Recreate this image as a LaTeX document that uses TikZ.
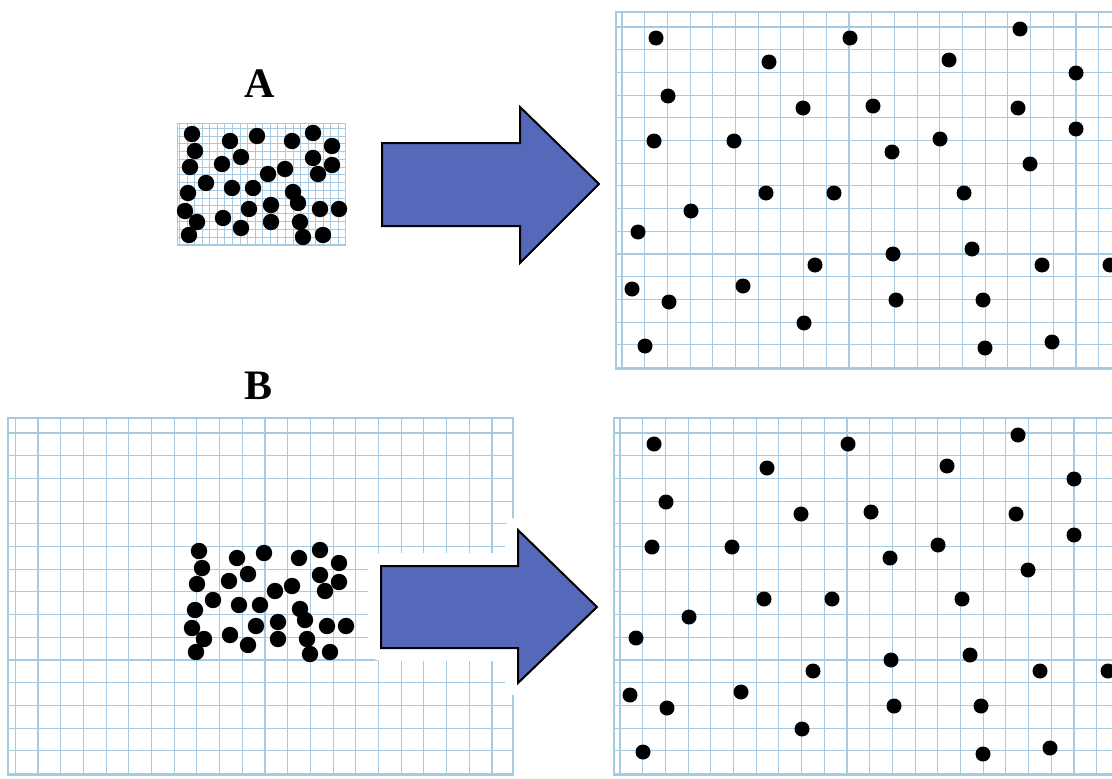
\documentclass[tikz,border=0pt]{standalone}
\usepackage{fontspec}
\setmainfont{Liberation Serif}
\definecolor{gridblue}{RGB}{165,202,226}
\definecolor{arrowblue}{RGB}{86,104,186}
\tikzset{
  gridline/.style={draw=gridblue, line width=1.1pt},
  finegrid/.style={draw=gridblue, line width=0.6pt},
  bigarrow/.style={fill=arrowblue, draw=black, line width=2pt, line join=miter},
  halo/.style={draw=white, fill=white, line width=26pt, line join=round},
  lbl/.style={font=\bfseries\fontsize{42}{42}\selectfont, inner sep=0pt, anchor=center}
}
% grid panel: lines drawn in local coordinates
\newcommand\gridlines[3]{% #1 = width, #2 = first vertical line offset, #3 = number of vertical lines-1
  \foreach \k in {0,...,#3} {\draw[gridline] ({#2+22.7*\k},0) -- ({#2+22.7*\k},357);}
  \foreach \k in {0,...,15} {\draw[gridline] (0,{15+22.7*\k}) -- (#1,{15+22.7*\k});}
  \draw[gridline] (0,0) rectangle (#1,357);
}
\newcommand\finegridlines{%
  \foreach \k in {0,...,21} {\draw[finegrid] ({7+22.7*\k},0) -- ({7+22.7*\k},357);}
  \foreach \k in {0,...,15} {\draw[finegrid] (0,{15+22.7*\k}) -- (505,{15+22.7*\k});}
  \draw[finegrid] (0,0) rectangle (505,357);
}
\newcommand\clusterdots{%
  \foreach \x/\y in {192/134,230/141,257/136,292/141,313/133,332/146,195/151,241/157,
    190/167,222/164,268/174,285/169,313/158,332/165,318/174,206/183,232/188,253/188,
    188/193,293/192,298/203,249/209,271/205,185/211,320/209,339/209,197/222,223/218,
    271/222,300/222,241/228,189/235,303/237,323/235}
    {\fill[black] (\x,\y) circle (8.2pt);}
}
\newcommand\spreaddots{%
  \foreach \x/\y in {656/38,850/38,1020/29,769/62,949/60,1076/73,668/96,803/108,873/106,
    1018/108,1076/129,654/141,734/141,892/152,940/139,1030/164,766/193,834/193,964/193,
    691/211,638/232,893/254,972/249,815/265,1042/265,1110/265,632/289,669/302,743/286,
    896/300,983/300,804/323,645/346,985/348,1052/342}
    {\fill[black] (\x,\y) circle (7.5pt);}
}
\begin{document}
\begin{tikzpicture}[x=1pt,y=-1pt]
\useasboundingbox (0,0) rectangle (1112,779);
\fill[white] (0,0) rectangle (1112,779);
\clip (0,0) rectangle (1112,779);

% ---- A: small grid with packed dots
\begin{scope}[shift={(177,123)}, xscale=0.3333, yscale=0.342]
  \finegridlines
\end{scope}
\clusterdots
\node[lbl] (labelA) at (260,84) {A};

% ---- top right: expanded
\begin{scope}[shift={(616,12)}]
  \gridlines{620}{6}{22}
\end{scope}
\spreaddots

% ---- B: big grid with packed dots
\begin{scope}[shift={(8,418)}]
  \gridlines{505}{7.3}{21}
\end{scope}
\begin{scope}[shift={(7,417)}]
  \clusterdots
\end{scope}
\node[lbl] (labelB) at (259,386) {B};

% ---- bottom right: expanded
\begin{scope}[shift={(614,418)}]
  \gridlines{620}{6}{22}
\end{scope}
\begin{scope}[shift={(-2,406)}]
  \spreaddots
\end{scope}

% ---- arrows
\draw[bigarrow] (382,143) -- (520,143) -- (520,107) -- (599,184) -- (520,263)
  -- (520,226) -- (382,226) -- cycle;
\draw[halo] (381,566) -- (518,566) -- (518,530) -- (597,607) -- (518,683)
  -- (518,648) -- (381,648) -- cycle;
\draw[bigarrow] (381,566) -- (518,566) -- (518,530) -- (597,607) -- (518,683)
  -- (518,648) -- (381,648) -- cycle;
\end{tikzpicture}
\end{document}
